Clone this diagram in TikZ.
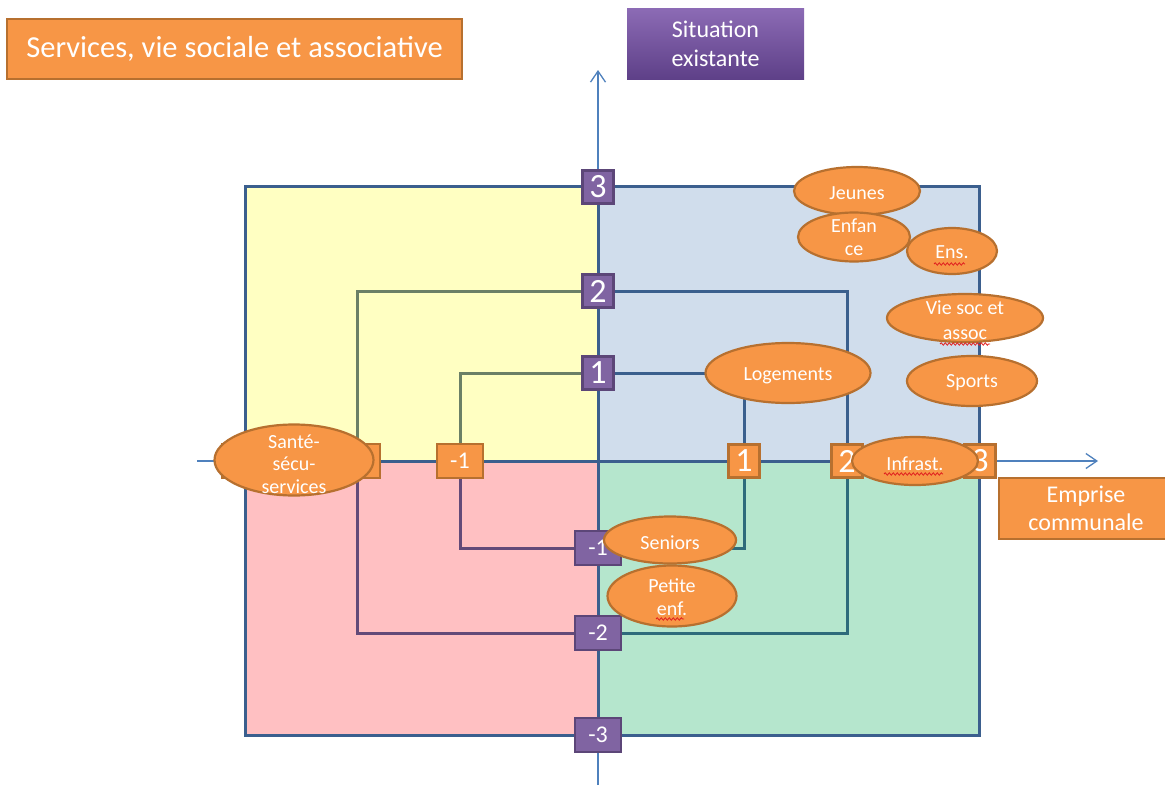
\documentclass[tikz,border=0pt]{standalone}
\usepackage{fontspec}
\setmainfont{Carlito}
\usetikzlibrary{shapes.geometric,arrows.meta,decorations.pathmorphing}
\definecolor{qyel}{HTML}{FFFFC2}
\definecolor{qblu}{HTML}{D0DDEC}
\definecolor{qpnk}{HTML}{FFC0C2}
\definecolor{qgrn}{HTML}{B5E6CD}
\definecolor{qbord}{HTML}{3B5F8E}
\definecolor{ltl}{HTML}{6B8066}
\definecolor{lbl}{HTML}{634A78}
\definecolor{ltr}{HTML}{3A5F8D}
\definecolor{lbr}{HTML}{2E6B7B}
\definecolor{axc}{HTML}{4F81BD}
\definecolor{ofill}{HTML}{F79646}
\definecolor{obord}{HTML}{B7702F}
\definecolor{pfill}{HTML}{8064A2}
\definecolor{pbord}{HTML}{5C4678}
\definecolor{ptop}{HTML}{8C6BB5}
\definecolor{pbot}{HTML}{5E4088}
\definecolor{squig}{HTML}{E02020}
\tikzset{
  numbox/.style={line width=2.5, text=white, inner sep=0, minimum height=33},
  posnum/.style={numbox, minimum width=31, font=\fontsize{34}{34}\selectfont},
  negnum/.style={numbox, minimum width=46, minimum height=34, font=\fontsize{24}{24}\selectfont},
  pb/.style={draw=pbord, fill=pfill},
  ob/.style={draw=obord, fill=ofill},
  ellbox/.style={ellipse, draw=obord, fill=ofill, line width=2.2, inner sep=0},
  etext/.style={text=white, align=center, inner sep=0, font=\fontsize{20}{23}\selectfont},
  quadline/.style={line width=3},
  axis/.style={draw=axc, line width=1.3, -{Straight Barb[length=11,width=15]}},
  spell/.style={draw=squig, line width=0.8, decorate, decoration={snake, amplitude=1.2, segment length=4}},
  bigbox/.style={draw=obord, fill=ofill, line width=2.5, text=white, align=center, inner sep=0},
}
\begin{document}
\begin{tikzpicture}[x=1pt,y=-1pt]
\useasboundingbox (0,0) rectangle (1165,787);
% axes
\coordinate (ybot) at (598,785);
\coordinate (ytop) at (598,70);
\coordinate (xleft) at (197,461);
\coordinate (xright) at (1098,461);
\draw[axis] (ybot) -- (ytop);
\draw[axis] (xleft) -- (xright);
% quadrants
\fill[qyel] (245,186) rectangle (598,461);
\fill[qblu] (598,186) rectangle (979,461);
\fill[qpnk] (245,461) rectangle (598,735);
\fill[qgrn] (598,461) rectangle (979,735);
\draw[qbord, line width=3] (245,186) rectangle (979,735);
% number boxes on vertical axis
\node[pb,posnum] (y3) at (598,187) {3};
\node[pb,posnum] (y2) at (598,291) {2};
\node[pb,posnum] (y1) at (598,373) {1};
\node[pb,negnum] (ym1) at (598,548) {-1};
\node[pb,negnum] (ym2) at (598,633) {-2};
\node[pb,negnum] (ym3) at (598,735) {-3};
% number boxes on horizontal axis
\node[ob,negnum] (xm3) at (245,461) {};
\node[ob,negnum] (xm2) at (357,461) {};
\node[ob,negnum] (xm1) at (460,461) {-1};
\node[ob,posnum] (x1) at (744,461) {1};
\node[ob,posnum] (x2) at (847,461) {2};
\node[ob,posnum] (x3) at (980,461) {3};
% inner rectangles
\draw[quadline,ltl] (y2.west) -| (xm2.north);
\draw[quadline,ltr] (y2.east) -| (x2.north);
\draw[quadline,lbl] (ym2.west) -| (xm2.south);
\draw[quadline,lbr] (ym2.east) -| (x2.south);
\draw[quadline,ltl] (y1.west) -| (xm1.north);
\draw[quadline,ltr] (y1.east) -| (x1.north);
\draw[quadline,lbl] (ym1.west) -| (xm1.south);
\draw[quadline,lbr] (ym1.east) -| (x1.south);
% axis dividers between boxes
\draw[quadline,qbord] (y3.south) -- (y2.north);
\draw[quadline,qbord] (y2.south) -- (y1.north);
\draw[quadline,qbord] (y1.south) -- (ym1.north);
\draw[quadline,qbord] (ym1.south) -- (ym2.north);
\draw[quadline,qbord] (ym2.south) -- (ym3.north);
\draw[quadline,qbord] (xm3.east) -- (xm2.west);
\draw[quadline,qbord] (xm2.east) -- (xm1.west);
\draw[quadline,qbord] (xm1.east) -- (x1.west);
\draw[quadline,qbord] (x1.east) -- (x2.west);
\draw[quadline,qbord] (x2.east) -- (x3.west);
% redraw boxes on top of lines
\node[pb,posnum] at (y3) {3};
\node[pb,posnum] at (y2) {2};
\node[pb,posnum] at (y1) {1};
\node[pb,negnum] at (ym1) {-1};
\node[pb,negnum] at (ym2) {-2};
\node[pb,negnum] at (ym3) {-3};
\node[ob,negnum] at (xm3) {};
\node[ob,negnum] at (xm2) {};
\node[ob,negnum] at (xm1) {-1};
\node[ob,posnum] at (x1) {1};
\node[ob,posnum] at (x2) {2};
\node[ob,posnum] at (x3) {3};
% ellipses
\node[ellbox, minimum width=126, minimum height=48] (jeu) at (857,191) {};
\node[etext] (jeut) at ([yshift=-2]jeu) {Jeunes};
\node[ellbox, minimum width=112, minimum height=49] (enf) at (854,237) {};
\node[etext] (enft) at (enf) {Enfan\\ce};
\node[ellbox, minimum width=90, minimum height=46] (ens) at (952,251) {};
\node[etext] (enst) at ([yshift=-1]ens) {Ens.};
\node[ellbox, minimum width=156, minimum height=48] (vie) at (965,318) {};
\node[etext, font=\fontsize{20}{24.5}\selectfont] (viet) at ([yshift=-2]vie) {Vie soc et\\assoc};
\node[ellbox, minimum width=130, minimum height=50] (spo) at (972,381) {};
\node[etext] (spot) at ([yshift=-2]spo) {Sports};
\node[ellbox, minimum width=165, minimum height=60] (log) at (788,373) {};
\node[etext] (logt) at ([yshift=-3]log) {Logements};
\node[ellbox, minimum width=159, minimum height=71] (san) at (294,460) {};
\node[etext, font=\fontsize{20}{22.5}\selectfont] (sant) at ([yshift=-4]san) {Santé-\\sécu-\\services};
\node[ellbox, minimum width=126, minimum height=48] (inf) at (915,461) {};
\node[etext] (inft) at ([yshift=-3]inf) {Infrast.};
\node[ellbox, minimum width=132, minimum height=47] (sen) at (670,540) {};
\node[etext] (sent) at ([yshift=-3]sen) {Seniors};
\node[ellbox, minimum width=129, minimum height=61] (pet) at (672,596) {};
\node[etext] (pett) at ([yshift=-1]pet) {Petite\\enf.};
% spell-check squiggles
\draw[spell] (934,264) -- (965,264);
\draw[spell] (940,344) -- (990,344);
\draw[spell] (656,619) -- (684,619);
\draw[spell] (884,474) -- (943,474);
% title boxes
\node[bigbox, minimum width=455, minimum height=60, font=\fontsize{30.5}{34}\selectfont] (title) at (234.5,49) {Services, vie sociale et associative};
\node[top color=ptop, bottom color=pbot, draw=none, text=white, align=center, inner sep=0, minimum width=177, minimum height=71, font=\fontsize{24}{29}\selectfont] (sit) at (715.5,43.5) {Situation\\existante};
\node[bigbox, minimum width=174, minimum height=61, font=\fontsize{24}{28}\selectfont] (emp) at (1086,508.5) {Emprise\\communale};
\end{tikzpicture}
\end{document}
